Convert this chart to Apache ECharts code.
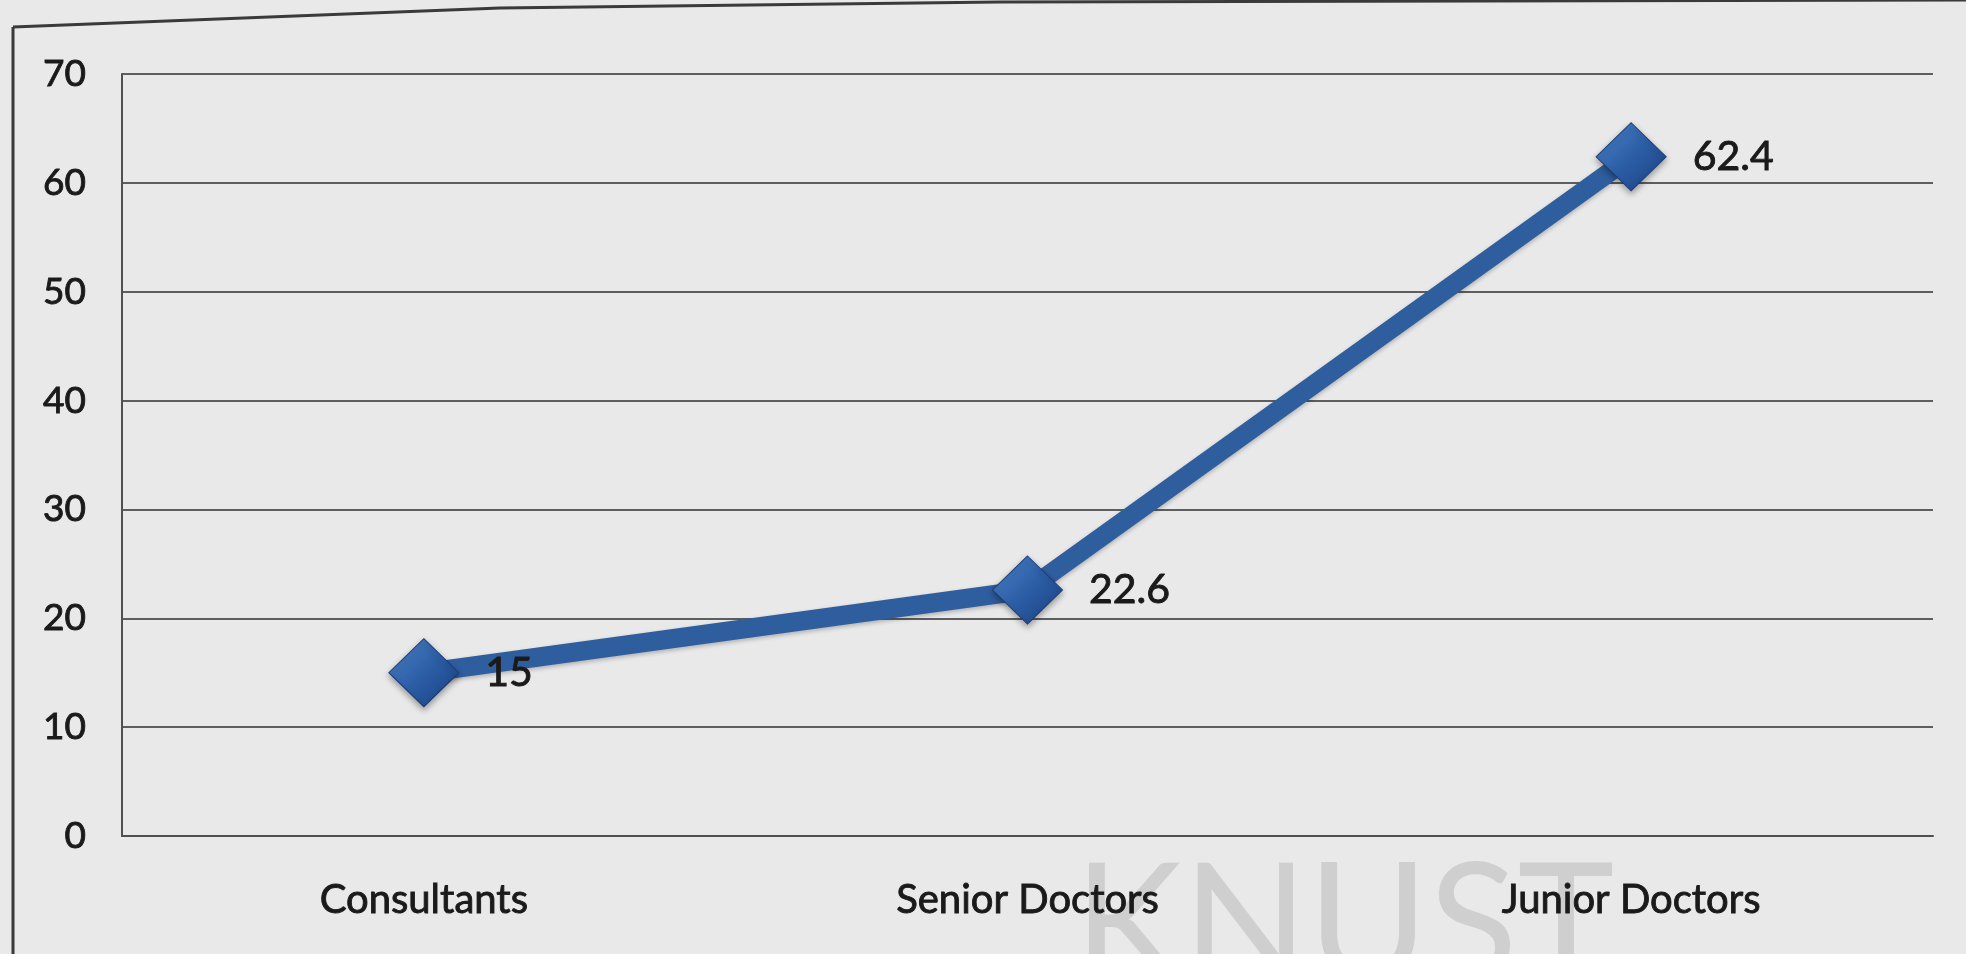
<!DOCTYPE html>
<html>
<head>
<meta charset="utf-8">
<script src="https://cdn.jsdelivr.net/npm/echarts@6/dist/echarts.min.js"></script>
<style>
  html, body { margin: 0; padding: 0; background: #e9e9e9; }
  #chart { width: 1966px; height: 954px; }
</style>
</head>
<body>
<div id="chart"></div>
<script>
// categories and values
const categories = ['Consultants', 'Senior Doctors', 'Junior Doctors'];
const values = [15, 22.6, 62.4];
const yTicks = [0, 10, 20, 30, 40, 50, 60, 70];

const myChart = echarts.init(document.getElementById('chart'));

// heavier text, the scan makes everything look a bit bold
const inkText = { color: '#1a1a1a', textBorderColor: '#1a1a1a', textBorderWidth: 0.9 };

const option = {
  backgroundColor: '#e9e9e9',
  textStyle: { fontFamily: 'Lato' },
  animation: false,
  grid: {
    left: 122,
    right: 33,
    top: 74,
    bottom: 118
  },
  graphic: [
    // outer frame of the scanned chart
    { type: 'line', shape: { x1: 13, y1: 27, x2: 13, y2: 954 }, style: { stroke: '#3a3a3a', lineWidth: 3 }, z: 10 },
    {
      type: 'polyline',
      shape: { points: [[13, 27], [500, 8], [1000, 2], [1966, 0]] },
      style: { stroke: '#3a3a3a', lineWidth: 3, fill: null },
      z: 10
    },
    // KNUST watermark
    {
      type: 'text',
      left: 1074,
      top: 846,
      z: -1,
      style: {
        text: 'KNUST',
        fontFamily: 'Lato',
        fontSize: 164,
        fontWeight: 'normal',
        fill: '#cfcfcf'
      }
    }
  ],
  xAxis: {
    type: 'category',
    data: categories,
    boundaryGap: true,
    axisLine: { lineStyle: { color: '#505050', width: 2 } },
    axisTick: { show: false },
    axisLabel: Object.assign({
      fontSize: 40,
      margin: 44
    }, inkText)
  },
  yAxis: {
    type: 'value',
    min: yTicks[0],
    max: yTicks[yTicks.length - 1],
    interval: 10,
    axisLine: { show: true, lineStyle: { color: '#505050', width: 2 } },
    axisTick: { show: false },
    axisLabel: Object.assign({
      fontSize: 37,
      margin: 36
    }, inkText),
    splitLine: { lineStyle: { color: '#5e5e5e', width: 2 } }
  },
  series: [
    {
      type: 'line',
      data: values,
      symbol: 'diamond',
      symbolSize: [70, 68],
      lineStyle: {
        color: '#2f5e9f',
        width: 19,
        shadowColor: 'rgba(0,0,0,0.25)',
        shadowBlur: 4,
        shadowOffsetY: 2
      },
      itemStyle: {
        color: new echarts.graphic.LinearGradient(0, 0, 1, 1, [
          { offset: 0, color: '#4f86cc' },
          { offset: 0.5, color: '#2c5ea6' },
          { offset: 1, color: '#1b4182' }
        ]),
        borderColor: '#1a3d78',
        borderWidth: 1,
        shadowColor: 'rgba(0,0,0,0.35)',
        shadowBlur: 6,
        shadowOffsetY: 3
      },
      label: Object.assign({
        show: true,
        position: 'right',
        distance: 26,
        fontSize: 41,
        fontFamily: 'Lato'
      }, inkText)
    }
  ]
};

myChart.setOption(option);
</script>
</body>
</html>
